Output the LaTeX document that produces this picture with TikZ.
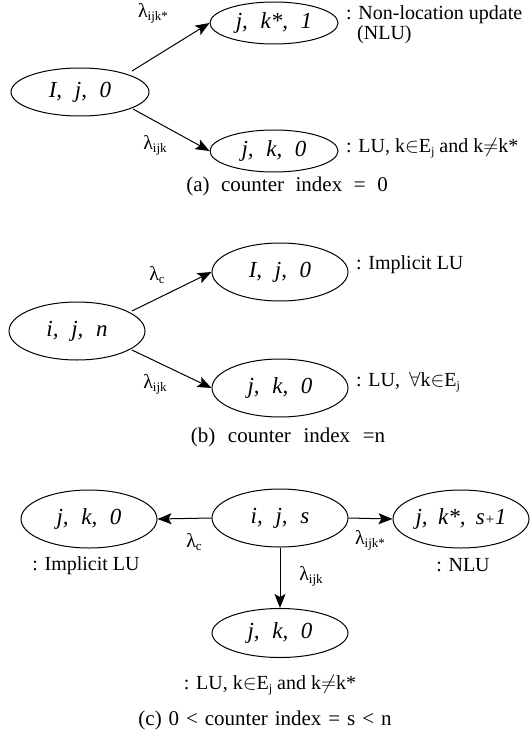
\documentclass[tikz,border=0pt]{standalone}
\usepackage{fontspec}
\setmainfont{Liberation Serif}
\usetikzlibrary{shapes.geometric,arrows.meta,calc}
\newcommand{\lamsub}[1]{\fontsize{20}{20}\selectfont λ\raisebox{-0.3ex}{\fontsize{13}{13}\selectfont #1}}
\newcommand{\sbj}{\raisebox{-0.35ex}{\fontsize{12}{12}\selectfont j}}
\newcommand{\gp}{\hspace{0.55em}}
\newcommand{\splus}{{\fontsize{15}{15}\selectfont +}}
\begin{document}
\begin{tikzpicture}[x=1pt,y=-1pt,
  st/.style={ellipse, draw, line width=1pt, inner sep=0pt, font=\fontsize{23}{23}\selectfont\itshape},
  ea/.style={st, minimum width=128pt, minimum height=42pt},
  eb/.style={st, minimum width=136pt, minimum height=58pt},
  lbl/.style={font=\fontsize{20}{20}\selectfont, inner sep=0pt},
  lam/.style={inner sep=0pt},
  captxt/.style={font=\fontsize{21}{21}\selectfont, inner sep=0pt},
  arr/.style={-{Stealth[length=14pt,width=11pt,inset=3pt]}, line width=1pt}]
\useasboundingbox (0,0) rectangle (530,733);
% (a)
\node[st, minimum width=138pt, minimum height=48pt] (a0) at (80,92) {I,\gp j,\gp 0};
\node[ea] (a1) at (274,23) {j,\gp k*,\gp 1};
\node[ea] (a2) at (274,151) {j,\gp k,\gp 0};
\node[lam] (la1) at (153,13) {\lamsub{ijk*}};
\node[lam] (la2) at (155,145) {\lamsub{ijk}};
\node[lbl, anchor=west] (ta1) at (346,15) {: Non-location update};
\node[lbl, anchor=west] (ta1b) at (357,35) {(NLU)};
\node[lbl, anchor=west] (ta2) at (346,148) {: LU, k$\in$E\sbj{} and k$\neq$k*};
\node[captxt] (capa) at (287,186) {(a)\hspace{0.55em}counter\hspace{0.55em}index\hspace{0.55em}=\hspace{0.55em}0};
\draw[arr] ($(a0.center)+(52,-21)$) -- (a1.west);
\draw[arr] ($(a0.center)+(53,17)$) -- (a2.west);
% (b)
\node[eb] (b0) at (77,331) {i,\gp j,\gp n};
\node[eb] (b1) at (280,272) {I,\gp j,\gp 0};
\node[eb] (b2) at (280,388) {j,\gp k,\gp 0};
\node[lam] (lb1) at (157,275) {\lamsub{c}};
\node[lam] (lb2) at (155,384) {\lamsub{ijk}};
\node[lbl, anchor=west] (tb1) at (356,265) {: Implicit LU};
\node[lbl, anchor=west] (tb2) at (356,382) {: LU,\hspace{0.45em}$\forall$k$\in$E\sbj};
\node[captxt] (capb) at (288,437) {(b)\hspace{0.6em}counter\hspace{0.6em}index\hspace{0.6em}=n};
\draw[arr] ($(b0.center)+(55,-20)$) -- (b1.west);
\draw[arr] ($(b0.center)+(55,19)$) -- (b2.west);
% (c)
\node[eb] (c0) at (280,518) {i,\gp j,\gp s};
\node[eb] (c1) at (89,519) {j,\gp k,\gp 0};
\node[eb] (c2) at (461,519) {j,\hspace{0.45em}k*,\hspace{0.45em}s\splus1};
\node[eb, minimum height=49pt] (c3) at (280,633) {j,\gp k,\gp 0};
\node[lam] (lc1) at (194,542) {\lamsub{c}};
\node[lam] (lc2) at (370,540) {\lamsub{ijk*}};
\node[lam] (lc3) at (311,576) {\lamsub{ijk}};
\node[lbl] (tc1) at (86,566) {: Implicit LU};
\node[lbl] (tc2) at (463,565) {: NLU};
\node[lbl] (tc3) at (270,685) {: LU, k$\in$E\sbj{} and k$\neq$k*};
\node[captxt] (capc) at (265,720) {(c)\hspace{0.33em}0\hspace{0.33em}<\hspace{0.33em}counter\hspace{0.33em}index\hspace{0.33em}=\hspace{0.33em}s\hspace{0.33em}<\hspace{0.33em}n};
\draw[arr] (c0.west) -- (c1.east);
\draw[arr] (c0.east) -- (c2.west);
\draw[arr] (c0.south) -- (c3.north);
\end{tikzpicture}
\end{document}
